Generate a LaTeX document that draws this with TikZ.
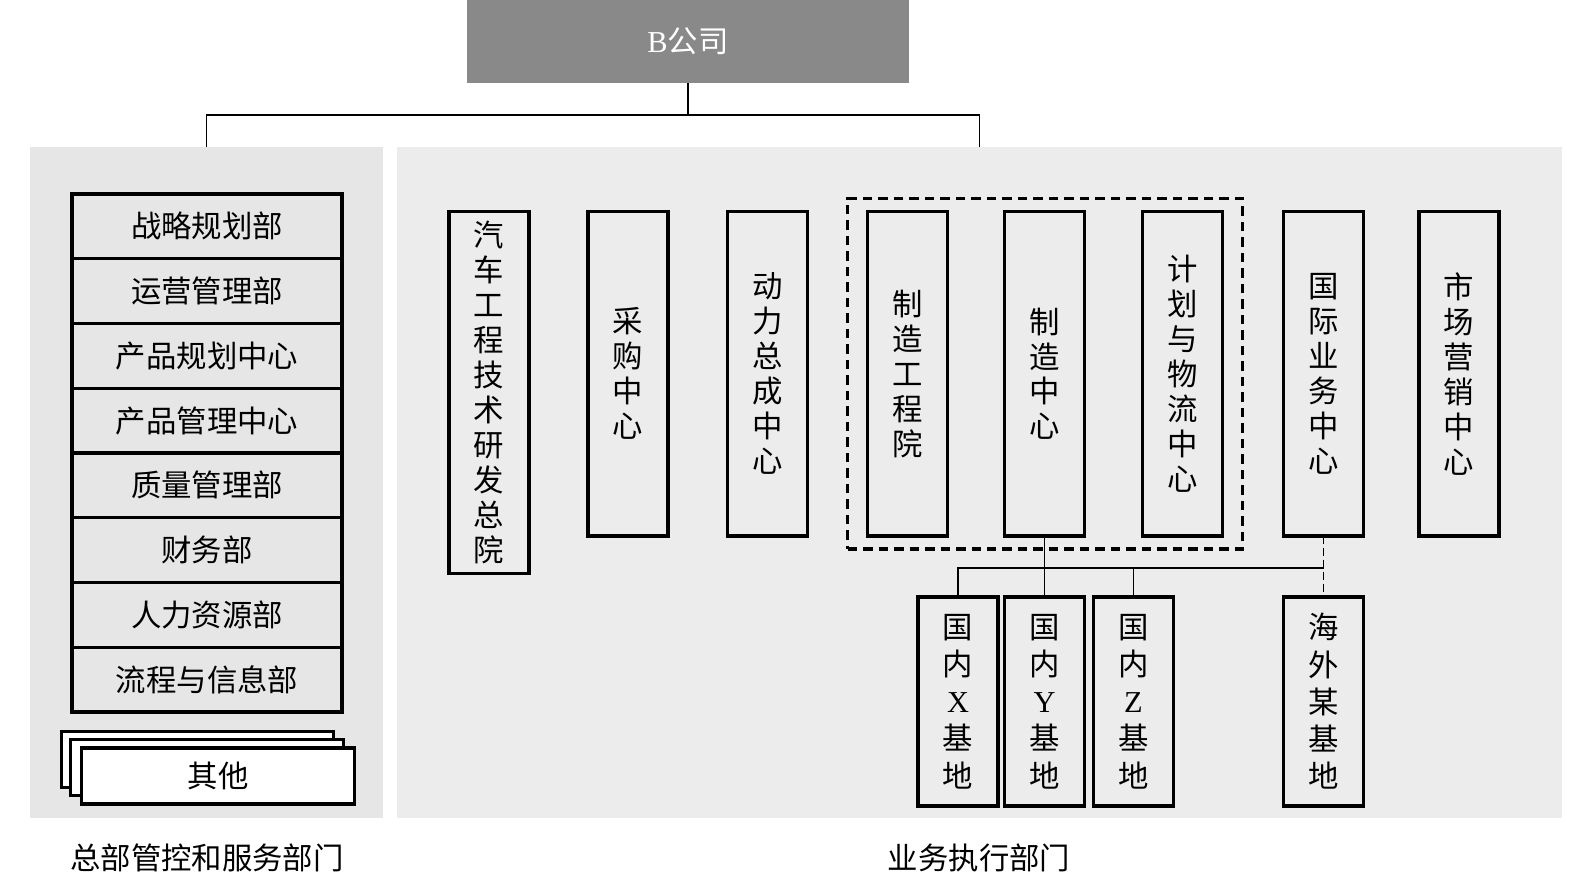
\documentclass[tikz,border=0pt]{standalone}
\usepackage{fontspec}
\setmainfont{Liberation Serif}
\newfontfamily\cjk{Noto Sans CJK SC}
\usetikzlibrary{positioning,fit}
\definecolor{headgray}{HTML}{898989}
\definecolor{panelhq}{HTML}{E6E6E6}
\definecolor{panelbiz}{HTML}{ECECEC}
\newcommand{\orgfont}{\cjk\fontsize{17.3}{19.9}\selectfont}
\newcommand{\basefont}{\cjk\fontsize{17.3}{21.2}\selectfont}

\begin{document}
\begin{tikzpicture}[x=0.02cm, y=-0.02cm,
        panel/.style={rectangle, inner sep=0pt, minimum height=13.42cm},
        listbox/.style={draw, line width=1.9pt, outer sep=0pt, minimum width=5.4cm, minimum height=1.295cm, font=\orgfont},
        tallbox/.style={draw, line width=1.9pt, outer sep=0pt, anchor=north, inner sep=0pt, minimum width=1.6cm, minimum height=6.49cm, align=center, font=\orgfont},
        basebox/.style={tallbox, minimum height=4.18cm, font=\basefont},
        othersbox/.style={draw, fill=white, line width=1.9pt, minimum width=5.45cm, minimum height=1.12cm, font=\orgfont},
        group/.style={draw, line width=1.9pt, dash pattern=on 0.19cm off 0.12cm, inner xsep=0.4cm, inner ysep=0.26cm},
        link/.style={line width=1.1pt}
    ]
    \useasboundingbox (0,0) rectangle (1594,876);

    % top and the two panels
    \node [fill=headgray, minimum width=8.84cm, minimum height=1.66cm, text=white, font=\orgfont] (company) at (688,41.5) {{\rmfamily B}公司};
    \node [panel, fill=panelhq, minimum width=7.06cm] (hq) at (206.5,482.5) {};
    \node [panel, fill=panelbiz, minimum width=23.3cm] (biz) at (979.5,482.5) {};
    \coordinate (bus) at (688,115);

    \draw [link] (company.south) -- (bus);
    \draw [link] (hq.north) |- (bus) -| (biz.north);

    % headquarters departments
    \foreach \dept [count=\i] in {战略规划部,运营管理部,产品规划中心,产品管理中心,质量管理部,财务部,人力资源部,流程与信息部}
        \node [listbox] (dept\i) at (207,{161.6+64.75*\i}) {\dept};

    \node [othersbox] (othersBack) at (197.5,759.5) {};
    \node [othersbox] (othersMid) at (207,767.5) {};
    \node [othersbox] (others) at (218,776) {其他};

    % business units
    \node [tallbox, minimum height=7.24cm] (rd) at (489,211.5) {汽\\车\\工\\程\\技\\术\\研\\发\\总\\院};
    \node [tallbox] (purchase) at (628,211.5) {采\\购\\中\\心};
    \node [tallbox] (power) at (767.5,211.5) {动\\力\\总\\成\\中\\心};
    \node [tallbox] (mfgeng) at (907.5,211.5) {制\\造\\工\\程\\院};
    \node [tallbox] (mfg) at (1044.5,211.5) {制\\造\\中\\心};
    \node [tallbox] (plan) at (1182.5,211.5) {计\\划\\与\\物\\流\\中\\心};
    \node [tallbox] (intl) at (1323.5,211.5) {国\\际\\业\\务\\中\\心};
    \node [tallbox] (market) at (1459,211.5) {市\\场\\营\\销\\中\\心};
    \node [group, fit=(mfgeng) (mfg) (plan)] (mfggroup) {};

    % production bases
    \node [basebox] (baseX) at (958,597) {国\\内\\{\rmfamily X}\\基\\地};
    \node [basebox] (baseY) at (1044.5,597) {国\\内\\{\rmfamily Y}\\基\\地};
    \node [basebox] (baseZ) at (1133.5,597) {国\\内\\{\rmfamily Z}\\基\\地};
    \node [basebox] (overseas) at (1323.5,597) {海\\外\\某\\基\\地};
    \coordinate (bus2) at (1044.5,568);

    \draw [link] (mfg.south) -- (baseY.north);
    \draw [link] (baseX.north) |- (intl.south |- bus2);
    \draw [link] (baseZ.north) -- (baseZ.north |- bus2);
    \draw [link, dash pattern=on 0.16cm off 0.08cm] (intl.south) -- (overseas.north);

    % panel captions
    \node [font=\orgfont] (hqlabel) at (207,858) {总部管控和服务部门};
    \node [font=\orgfont] (bizlabel) at (979,858) {业务执行部门};
\end{tikzpicture}
\end{document}
